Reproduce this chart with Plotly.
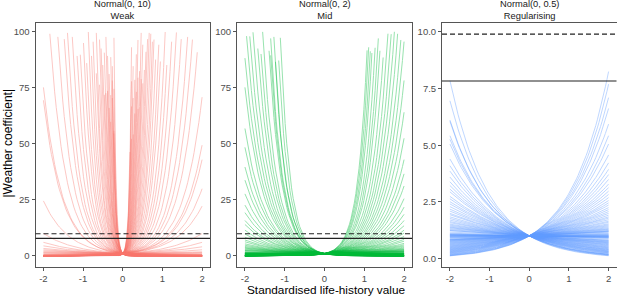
import numpy as np
import plotly.graph_objects as go

# Panel facets (prior name, label, prior sd, colour)
panel_titles = ["Normal(0, 10)", "Normal(0, 2)", "Normal(0, 0.5)"]
panel_labels = ["Weak", "Mid", "Regularising"]
prior_sd = [10, 2, 0.5]
panel_colors = ["#F8766D", "#00BA38", "#619CFF"]

# Standardised prior draws (slope = prior_sd * draw)
draws = [
    -2.06, -1.94, -1.81, -1.80, -1.69, -1.66, -1.62, -1.48, -1.41, -1.35,
    -1.28, -1.22, -1.17, -1.12, -1.08, -1.01, -0.97, -0.92, -0.88, -0.83,
    -0.78, -0.74, -0.69, -0.66, -0.61, -0.57, -0.53, -0.49, -0.46, -0.42,
    -0.39, -0.36, -0.33, -0.31, -0.28, -0.25, -0.216, -0.212, -0.16,
    -0.115, -0.09, -0.075, -0.06, -0.05, -0.04, -0.03, -0.02, -0.01,
    2.11, 2.04, 1.96, 1.89, 1.78, 1.69, 1.62, 1.52, 1.44, 1.37,
    1.31, 1.25, 1.19, 1.14, 1.09, 1.04, 0.99, 0.94, 0.90, 0.86,
    0.81, 0.77, 0.73, 0.69, 0.65, 0.61, 0.58, 0.54, 0.50, 0.47,
    0.43, 0.40, 0.37, 0.34, 0.31, 0.28, 0.26, 0.24, 0.213, 0.195,
    0.188, 0.17, 0.155, 0.115, 0.09, 0.07, 0.05, 0.03, 0.02, 0.01,
]

# Life-history values sampled along x
life_history = np.linspace(-2, 2, 100)
y_cap = 100

# Reference lines
solid_ref = 7.83
dashed_ref = 9.9

# Tick labels
x_ticks = [-2, -1, 0, 1, 2]
y_ticks_wide = [0, 25, 50, 75, 100]
y_ticks_narrow = [0, 2.5, 5, 7.5, 10]
y_ticktext_narrow = ["0.0", "2.5", "5.0", "7.5", "10.0"]

W, H = 617, 296
panels_px = [(35.5, 210), (237, 412), (442, 616.5)]
top_px, bot_px = 23, 267

fig = go.Figure()

for i, (sd, col) in enumerate(zip(prior_sd, panel_colors)):
    xa = "x" if i == 0 else f"x{i+1}"
    ya = "y" if i == 0 else f"y{i+1}"
    for z in draws:
        yv = np.exp(sd * z * life_history)
        m = yv <= y_cap
        fig.add_trace(go.Scatter(
            x=life_history[m], y=yv[m], mode="lines",
            line=dict(color=col, width=1), opacity=0.4,
            xaxis=xa, yaxis=ya, showlegend=False, hoverinfo="skip"))
    for val, dash in [(solid_ref, "solid"), (dashed_ref, "5px,3px")]:
        fig.add_shape(type="line", xref=f"{xa} domain", yref=ya,
                      x0=0, x1=1, y0=val, y1=val, layer="above",
                      line=dict(color="#222222", width=1.1, dash=dash))

font_fam = "Liberation Sans, Arial, sans-serif"
axis_common = dict(showline=True, mirror=True, linecolor="#555555", linewidth=1,
                   showgrid=False, zeroline=False, ticks="outside", ticklen=3,
                   tickcolor="#555555", tickwidth=1,
                   tickfont=dict(family=font_fam, size=9.5, color="#4d4d4d"))

ydom = [1 - bot_px / H, 1 - top_px / H]
layout = dict(width=W, height=H, margin=dict(l=0, r=0, t=0, b=0),
              plot_bgcolor="white", paper_bgcolor="white", showlegend=False)
for i, (l, r) in enumerate(panels_px):
    sfx = "" if i == 0 else str(i + 1)
    layout["xaxis" + sfx] = dict(axis_common, domain=[l / W, r / W], range=[-2.2, 2.2],
                                 tickvals=x_ticks, ticktext=[str(t) for t in x_ticks],
                                 anchor="y" + sfx, ticklabelstandoff=0)
    if i < 2:
        yax = dict(axis_common, domain=ydom, range=[-4.95, 103.9],
                   tickvals=y_ticks_wide, ticktext=[str(t) for t in y_ticks_wide])
    else:
        yax = dict(axis_common, domain=ydom, range=[-0.37, 10.39],
                   tickvals=y_ticks_narrow, ticktext=y_ticktext_narrow)
    yax["anchor"] = "x" + sfx
    layout["yaxis" + sfx] = yax
fig.update_layout(**layout)

ann = []
for (l, r), t1, t2 in zip(panels_px, panel_titles, panel_labels):
    cx = (l + r) / 2 / W
    ann.append(dict(x=cx, y=1 - 9.5 / H, text=f"{t1}<br>{t2}", showarrow=False,
                    xref="paper", yref="paper", xanchor="center", yanchor="middle",
                    borderpad=0,
                    font=dict(family=font_fam, size=9.3, color="#1a1a1a")))
ann.append(dict(x=326 / W, y=1 - 289.5 / H, text="Standardised life-history value", showarrow=False,
                xref="paper", yref="paper", xanchor="center", yanchor="middle",
                font=dict(family=font_fam, size=11.8, color="#000000")))
ann.append(dict(x=7.5 / W, y=1 - 143 / H, text="|Weather coefficient|", showarrow=False,
                xref="paper", yref="paper", xanchor="center", yanchor="middle", textangle=-90,
                font=dict(family=font_fam, size=12, color="#000000")))
fig.update_layout(annotations=ann)

fig.write_html("out.html", config={"displayModeBar": False},
               post_script="document.body.style.margin='0';document.body.style.overflow='hidden';")
